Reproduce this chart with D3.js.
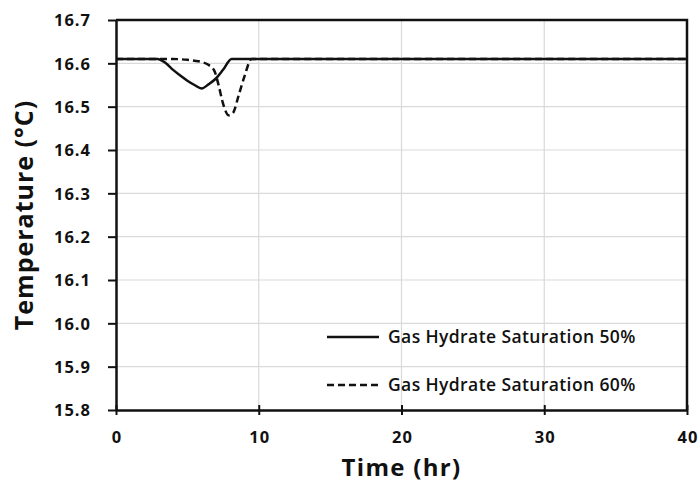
<!DOCTYPE html>
<html>
<head>
<meta charset="utf-8">
<script src="https://cdn.jsdelivr.net/npm/d3@7"></script>
<style>
  html, body { margin: 0; padding: 0; background: #fff; }
  svg { display: block; }
  text { font-family: "Open Sans", "Noto Sans", sans-serif; fill: #111; }
</style>
</head>
<body>
<svg id="chart" width="700" height="500"></svg>
<script>
// Temperature response at hydrate saturations of 50% and 60%
const timeHr50 = [0, 2.9, 3.5, 4.0, 4.5, 5.0, 5.5, 6.0, 6.5, 7.0, 7.5, 8.1, 40];
const temp50   = [16.61, 16.61, 16.60, 16.585, 16.572, 16.56, 16.55, 16.542, 16.552, 16.565, 16.585, 16.61, 16.61];

const timeHr60 = [0, 4.0, 5.0, 5.5, 6.0, 6.5, 6.9, 7.2, 7.5, 7.9, 8.2, 8.6, 9.0, 9.5, 40];
const temp60   = [16.61, 16.61, 16.608, 16.606, 16.603, 16.596, 16.582, 16.548, 16.507, 16.48, 16.486, 16.527, 16.57, 16.61, 16.61];

const xTicks = [0, 10, 20, 30, 40];
const yTicks = [15.8, 15.9, 16.0, 16.1, 16.2, 16.3, 16.4, 16.5, 16.6, 16.7];
const seriesNames = ["Gas Hydrate Saturation 50%", "Gas Hydrate Saturation 60%"];

const svg = d3.select("#chart");
const m = { left: 116, right: 687, top: 20, bottom: 410 };

const x = d3.scaleLinear().domain([0, 40]).range([m.left, m.right]);
const y = d3.scaleLinear().domain([15.8, 16.7]).range([m.bottom, m.top]);

// gridlines
const grid = svg.append("g").attr("stroke", "#d9d9d9").attr("stroke-width", 1.2);
grid.selectAll("line.h").data(yTicks.slice(1, -1)).join("line")
  .attr("x1", m.left).attr("x2", m.right)
  .attr("y1", d => y(d)).attr("y2", d => y(d));
grid.selectAll("line.v").data(xTicks.slice(1, -1)).join("line")
  .attr("y1", m.top).attr("y2", m.bottom)
  .attr("x1", d => x(d)).attr("x2", d => x(d));

// frame: top and right edges
svg.append("path")
  .attr("d", `M${m.left},${m.top}H${m.right}V${m.bottom}`)
  .attr("fill", "none").attr("stroke", "#111").attr("stroke-width", 2.5);

// axes
const xAxis = d3.axisBottom(x).tickValues(xTicks).tickSizeInner(5).tickSizeOuter(0).tickFormat(d3.format("d"));
const yAxis = d3.axisLeft(y).tickValues(yTicks).tickSizeInner(8).tickSizeOuter(0).tickFormat(d3.format(".1f"));

const gx = svg.append("g").attr("transform", `translate(0,${m.bottom})`).call(xAxis);
const gy = svg.append("g").attr("transform", `translate(${m.left},0)`).call(yAxis);

[gx, gy].forEach(g => {
  g.select(".domain").attr("stroke", "#111").attr("stroke-width", 2.5);
  g.selectAll(".tick line").attr("stroke", "#111").attr("stroke-width", 2);
  g.selectAll(".tick text").attr("fill", "#111")
    .style("font-family", "'Open Sans', sans-serif")
    .style("font-weight", "700").style("font-size", "16.5px")
    .style("letter-spacing", "1px");
});
// x ticks cross the axis line
gx.selectAll(".tick line").attr("y1", -5).attr("y2", 5);
gx.selectAll(".tick text").attr("y", 33).attr("dy", 0).attr("dx", "0.5px");
gy.selectAll(".tick text").attr("x", -25).attr("dy", "0.36em");

// series lines
const line = d3.line().x(d => x(d[0])).y(d => y(d[1])).curve(d3.curveMonotoneX);
const s50 = d3.zip(timeHr50, temp50);
const s60 = d3.zip(timeHr60, temp60);

svg.append("path").datum(s60)
  .attr("d", line).attr("fill", "none")
  .attr("stroke", "#111").attr("stroke-width", 2.5)
  .attr("stroke-dasharray", "7,4");
svg.append("path").datum(s50)
  .attr("d", line).attr("fill", "none")
  .attr("stroke", "#111").attr("stroke-width", 2.5);

// legend
const legend = svg.append("g");
const legendRows = [
  { name: seriesNames[0], dash: null, y: 337 },
  { name: seriesNames[1], dash: "7,4", y: 385 }
];
legendRows.forEach(r => {
  legend.append("line")
    .attr("x1", 327).attr("x2", 379).attr("y1", r.y).attr("y2", r.y)
    .attr("stroke", "#111").attr("stroke-width", 2.5)
    .attr("stroke-dasharray", r.dash);
  legend.append("text")
    .attr("x", 388).attr("y", r.y + 6)
    .style("font-size", "17.5px").style("font-weight", "600")
    .style("letter-spacing", "0.4px")
    .text(r.name);
});

// axis titles
svg.append("text")
  .attr("x", (m.left + m.right) / 2).attr("y", 476)
  .attr("text-anchor", "middle")
  .style("font-size", "24px").style("font-weight", "700")
  .style("letter-spacing", "1.3px")
  .text("Time (hr)");
svg.append("text")
  .attr("transform", `translate(33,${(m.top + m.bottom) / 2}) rotate(-90)`)
  .attr("text-anchor", "middle")
  .style("font-size", "25px").style("font-weight", "700")
  .style("letter-spacing", "1px")
  .text("Temperature (°C)");
</script>
</body>
</html>
